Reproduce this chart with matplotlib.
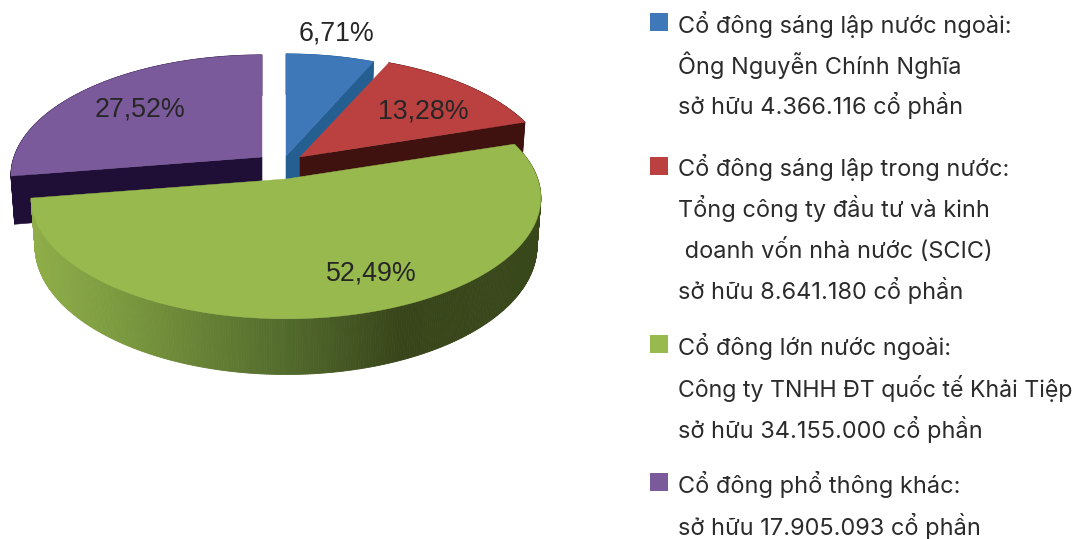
import numpy as np
import matplotlib
matplotlib.use("Agg")
import matplotlib.pyplot as plt
from matplotlib.patches import Polygon, Rectangle
from matplotlib.colors import to_rgb

shares = [6.71, 13.28, 52.49, 27.52]
share_labels = ["6,71%", "13,28%", "52,49%", "27,52%"]
top_colors = ["#3f78b8", "#bb4140", "#97b94d", "#7b5a9c"]
cut_colors = ["#255f91", "#3f120f", "#3a4a1c", "#1f0e35"]
legend_lines = [
    ["Cổ đông sáng lập nước ngoài:", "Ông Nguyễn Chính Nghĩa", "sở hữu 4.366.116 cổ phần"],
    ["Cổ đông sáng lập trong nước:", "Tổng công ty đầu tư và kinh", " doanh vốn nhà nước (SCIC)", "sở hữu 8.641.180 cổ phần"],
    ["Cổ đông lớn nước ngoài:", "Công ty TNHH ĐT quốc tế Khải Tiệp", "sở hữu 34.155.000 cổ phần"],
    ["Cổ đông phổ thông khác:", "sở hữu 17.905.093 cổ phần"],
]

# layout (pixels)
apexes = [(286, 156), (300, 157), (286, 179), (262, 157)]
x_scale = [0.985, 1.0, 1.015, 1.0]
label_pos = [(336, 33), (423, 111), (371, 274), (140, 110)]
legend_box_y = [22, 166, 344, 482]
legend_text_y = [[25, 66, 106], [168, 209, 250, 291], [347, 389, 430], [485, 527]]
legend_sizes = {"Công ty TNHH ĐT quốc tế Khải Tiệp": 16.65}
RX, RY, K, DEPTH, SHRINK = 248, 118, 0.156, 47, 0.985
green_x = [33, 110, 290, 400, 540]
green_c = ["#8fae49", "#7d9c40", "#52692c", "#38451a", "#39481b"]

fig = plt.figure(figsize=(10.77, 5.39), dpi=100)
ax = fig.add_axes([0, 0, 1, 1])
ax.set_xlim(0, 1077); ax.set_ylim(539, 0); ax.axis("off")


def proj(i, theta, r=1.0, z=0.0):
    apex = apexes[i]
    x, y = r * np.sin(theta), r * np.cos(theta)
    w = 1 + K * y
    sx = (1 - (1 - SHRINK) * z) * x_scale[i]
    return apex[0] + RX * x / w * sx, apex[1] - RY * y / w + DEPTH * z / w


def green_shade(x):
    rgb = np.array([to_rgb(c) for c in green_c])
    return tuple(np.interp(x, green_x, rgb[:, i]) for i in range(3))


edges = np.cumsum([0] + shares) * 3.6
order = [3, 0, 1, 2]
for i in order:
    t1, t2 = np.radians(edges[i]), np.radians(edges[i + 1])
    ts = np.linspace(t1, t2, int(max(edges[i + 1] - edges[i], 4) * 2) + 1)
    # outer rim
    for u, v in zip(ts[:-1], ts[1:]):
        quad = [proj(i, u), proj(i, v), proj(i, v, z=1), proj(i, u, z=1)]
        col = green_shade(proj(i, (u + v) / 2)[0]) if i == 2 else cut_colors[i]
        ax.add_patch(Polygon(quad, closed=True, fc=col, ec=col, lw=0.6))
    # cut faces turned to the viewer
    if np.cos(t1 - np.pi / 2) < -1e-6:
        q = [proj(i, t1, 0), proj(i, t1), proj(i, t1, z=1), proj(i, t1, 0, 1)]
        ax.add_patch(Polygon(q, closed=True, fc=cut_colors[i], ec=cut_colors[i], lw=0.4))
    if np.cos(t2 + np.pi / 2) < -1e-6:
        q = [proj(i, t2, 0), proj(i, t2), proj(i, t2, z=1), proj(i, t2, 0, 1)]
        ax.add_patch(Polygon(q, closed=True, fc=cut_colors[i], ec=cut_colors[i], lw=0.4))
    # top face
    pts = [proj(i, 0, 0)] + [proj(i, t) for t in ts]
    ax.add_patch(Polygon(pts, closed=True, fc=top_colors[i], ec=top_colors[i], lw=0.3))

for (x, y), s in zip(label_pos, share_labels):
    ax.text(x, y, s, ha="center", va="center", fontsize=19.3,
            family=["Liberation Sans", "DejaVu Sans"], color="#262626")

for c, by, lines, ys in zip(top_colors, legend_box_y, legend_lines, legend_text_y):
    ax.add_patch(Rectangle((650, by - 9), 18, 18, fc=c, ec="none"))
    for s, y in zip(lines, ys):
        ax.text(678, y + 8, s, ha="left", va="baseline", fontsize=legend_sizes.get(s, 16.95),
                family=["Inter", "Noto Sans", "DejaVu Sans"], color="#2b2b2b")

fig.savefig("out.png", dpi=100)
